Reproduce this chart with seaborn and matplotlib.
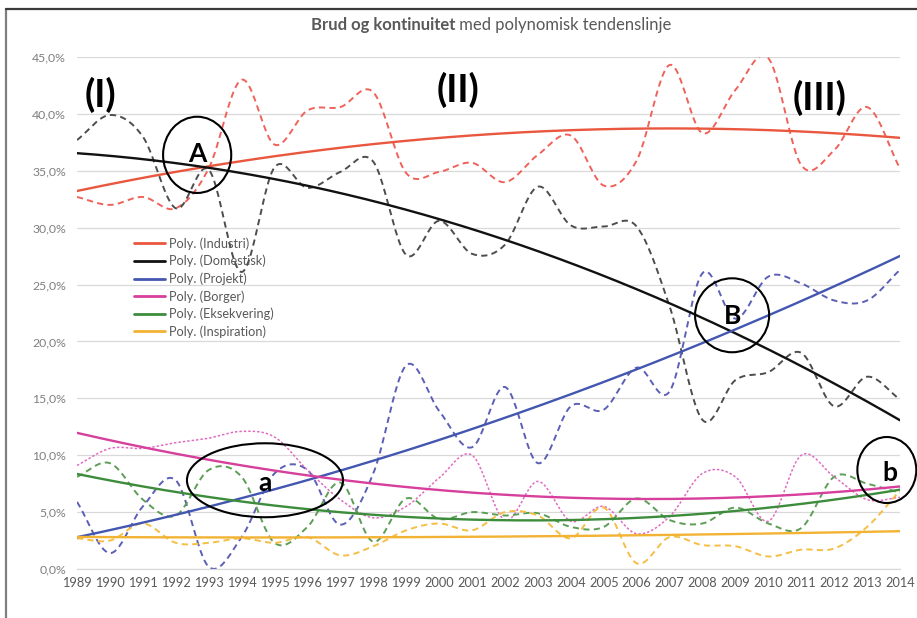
import matplotlib
matplotlib.use("Agg")
import matplotlib.pyplot as plt
import seaborn as sns
import numpy as np
from matplotlib.patches import Ellipse
from matplotlib.lines import Line2D

# Data (andele i procent)
years = list(range(1989, 2015))

industri = [32.7, 32.0, 32.7, 31.7, 35.2, 43.0, 37.3, 40.3, 40.6, 41.9, 34.8, 34.9, 35.7,
            34.0, 36.4, 38.1, 33.7, 35.9, 44.3, 38.3, 42.1, 44.9, 35.5, 36.8, 40.6, 35.2]
domestisk = [37.7, 39.9, 38.0, 31.7, 35.1, 26.1, 35.3, 33.5, 34.9, 35.8, 27.6, 30.6, 27.7,
             28.5, 33.6, 30.2, 30.1, 30.1, 23.1, 13.1, 16.6, 17.3, 19.0, 14.3, 16.9, 14.9]
projekt = [5.9, 1.4, 5.5, 7.8, 0.2, 2.8, 8.4, 8.7, 3.9, 8.4, 17.9, 13.9, 10.7,
           16.0, 9.3, 14.3, 14.0, 17.7, 15.6, 26.0, 22.0, 25.7, 25.1, 23.6, 23.6, 26.3]
borger = [9.1, 10.6, 10.6, 11.1, 11.5, 12.1, 11.6, 8.7, 6.1, 4.5, 5.5, 8.0, 10.0,
          4.3, 7.7, 4.2, 5.5, 3.1, 4.6, 8.4, 8.1, 4.2, 10.0, 8.1, 6.1, 6.3]
eksekvering = [8.1, 9.3, 6.1, 4.7, 8.7, 8.1, 2.3, 3.7, 7.6, 2.4, 6.2, 4.4, 5.0,
               4.7, 4.9, 3.7, 3.7, 6.2, 4.3, 4.0, 5.4, 4.0, 3.6, 8.1, 7.5, 6.7]
inspiration = [2.7, 2.5, 4.0, 2.3, 2.3, 2.7, 2.3, 2.8, 1.2, 2.0, 3.4, 4.0, 3.4,
               5.0, 4.7, 2.7, 5.4, 0.5, 2.8, 2.1, 2.0, 1.1, 1.7, 1.8, 3.7, 6.9]

series_names = ['Industri', 'Domestisk', 'Projekt', 'Borger', 'Eksekvering', 'Inspiration']
series_values = [industri, domestisk, projekt, borger, eksekvering, inspiration]

# farver: (tendenslinje, rå kurve)
COLORS = {
    'Industri':    ('#E9573F', '#EF625A'),
    'Domestisk':   ('#111111', '#4D4D4D'),
    'Projekt':     ('#4356B0', '#5B5FB5'),
    'Borger':      ('#D63F9C', '#E06CC0'),
    'Eksekvering': ('#3C8C3C', '#5C9E55'),
    'Inspiration': ('#F2B233', '#F5BE45'),
}


def smooth_curve(x, y, n=24):
    """Excel-agtig udglattet linje (Catmull-Rom gennem punkterne)."""
    pts = np.column_stack([x, y]).astype(float)
    P = np.vstack([2 * pts[0] - pts[1], pts, 2 * pts[-1] - pts[-2]])
    t = np.linspace(0, 1, n, endpoint=False)[:, None]
    segs = []
    for i in range(1, len(P) - 2):
        p0, p1, p2, p3 = P[i - 1], P[i], P[i + 1], P[i + 2]
        seg = 0.5 * (2 * p1 + (-p0 + p2) * t + (2 * p0 - 5 * p1 + 4 * p2 - p3) * t ** 2
                     + (-p0 + 3 * p1 - 3 * p2 + p3) * t ** 3)
        segs.append(seg)
    segs.append(pts[-1:])
    out = np.vstack(segs)
    return out[:, 0], out[:, 1]


sns.set_theme(style="white")
plt.rcParams['font.family'] = ['Lato', 'DejaVu Sans']

fig = plt.figure(figsize=(9.17, 6.18), dpi=100)
ax = fig.add_axes([77 / 917, 1 - 569 / 618, (900 - 77) / 917, (569 - 57) / 618])

x_arr = np.array(years, dtype=float)
fine_x = np.linspace(years[0], years[-1], 300)

# rå kurver (stiplede)
for name, vals in zip(series_names, series_values):
    sx, sy = smooth_curve(x_arr, vals)
    dash = (0, (1.6, 1.3)) if name == 'Borger' else (0, (3.2, 2.2))
    lw = 1.1 if name == 'Borger' else 1.4
    sns.lineplot(x=sx, y=sy, ax=ax, color=COLORS[name][1], linewidth=lw,
                 linestyle=dash, sort=False, estimator=None, zorder=2)

# polynomiske tendenslinjer (2. grad)
handles = []
for name, vals in zip(series_names, series_values):
    coef = np.polyfit(x_arr, vals, 2)
    sns.lineplot(x=fine_x, y=np.polyval(coef, fine_x), ax=ax, color=COLORS[name][0],
                 linewidth=1.7, sort=False, estimator=None, zorder=3)
    handles.append(Line2D([0], [0], color=COLORS[name][0], lw=2, label=f"Poly. ({name})"))

ax.set_xlim(years[0], years[-1])
ax.set_ylim(0, 45)
ax.set_xticks(years)
ax.set_xticklabels([str(y) for y in years])
yt = np.arange(0, 46, 5)
ax.set_yticks(yt)
ax.set_yticklabels([f"{v:.1f}%".replace('.', ',') for v in yt])
ax.set_xlabel('')
ax.set_ylabel('')

ax.grid(axis='y', color='#D9D9D9', linewidth=0.9)
ax.grid(axis='x', visible=False)
for s in ['top', 'right', 'left']:
    ax.spines[s].set_visible(False)
ax.spines['bottom'].set_color('#D9D9D9')
ax.spines['bottom'].set_linewidth(0.9)
ax.tick_params(axis='x', labelsize=9.2, length=3, width=0.8, color='#D9D9D9',
               direction='out', pad=3, labelcolor='#595959')
ax.tick_params(axis='y', labelsize=8.8, length=0, pad=8, labelcolor='#7F7F7F')
ax.set_axisbelow(True)

leg = ax.legend(handles=handles, loc='upper left', bbox_to_anchor=(129 / 917, 1 - 232 / 618),
                bbox_transform=fig.transFigure, frameon=False, fontsize=9.2,
                handlelength=2.4, handletextpad=0.3, labelspacing=0.4, borderaxespad=0)
for txt in leg.get_texts():
    txt.set_color('#595959')

# titel
fig.text(455 / 917, 1 - 25 / 618, "Brud og kontinuitet", ha='right', va='center',
         fontsize=12, fontweight='bold', color='#595959')
fig.text(455 / 917, 1 - 25 / 618, " med polynomisk tendenslinje", ha='left', va='center',
         fontsize=12, color='#595959')

# perioder
for label, xp, yp in [("(I)", 1989.7, 41.7), ("(II)", 2000.57, 42.1), ("(III)", 2011.57, 41.4)]:
    ax.text(xp, yp, label, ha='center', va='center', fontsize=27, fontweight='bold',
            color='black', zorder=6)

# markeringer
marks = [("A", 1992.65, 36.4, 2.07, 6.7, 36.5),
         ("B", 2008.9, 22.3, 2.25, 6.5, 22.2),
         ("a", 1994.71, 7.8, 4.74, 6.5, 7.6),
         ("b", 2013.6, 8.7, 1.79, 5.8, 8.4)]
for letter, cx, cy, w, h, ty in marks:
    ax.add_patch(Ellipse((cx, cy), w, h, fill=False, edgecolor='black', linewidth=1.5,
                         clip_on=False, zorder=6))
    ax.text(cx + (0.1 if letter == 'b' else 0), ty, letter, ha='center', va='center',
            fontsize=19, fontweight='bold', color='black', zorder=7)

# ramme
fig.add_artist(Line2D([6 / 917, 6 / 917], [0, 1 - 9 / 618], color='#7F7F7F', lw=1.6))
fig.add_artist(Line2D([6 / 917, 1], [1 - 9 / 618, 1 - 9 / 618], color='#3A3A3A', lw=1.6))

fig.savefig("out.png", dpi=100)
